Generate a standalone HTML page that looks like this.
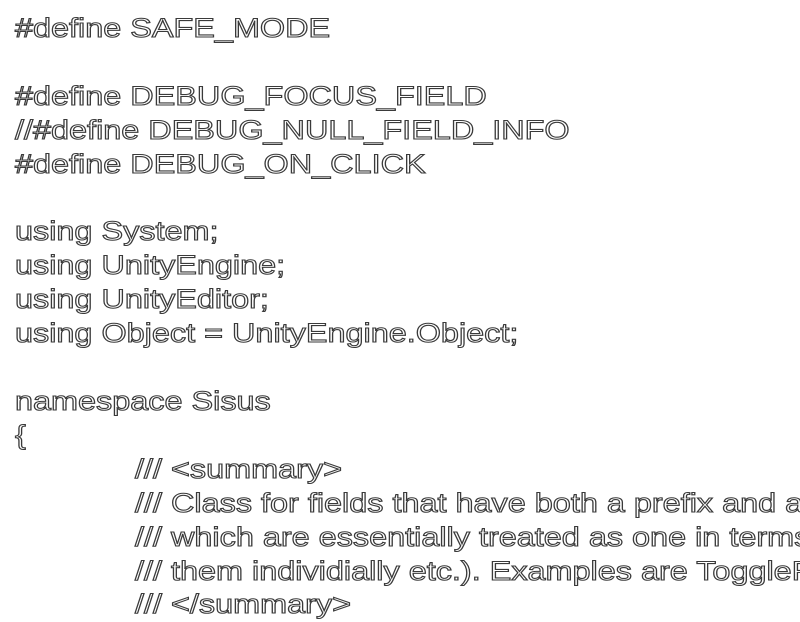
<!DOCTYPE html>
<html><head><meta charset="utf-8"><style>
html,body{margin:0;padding:0;background:#fff;width:800px;height:600px;overflow:hidden}
.t{position:absolute;left:15px;top:12px;font-family:"Liberation Sans",sans-serif;font-size:27px;line-height:33.9px;color:#fff;-webkit-text-stroke:1.1px #3a3a3a;white-space:pre;transform:scaleX(1.2);transform-origin:0 0}
</style></head><body>
<div class="t">#define SAFE_MODE

#define DEBUG_FOCUS_FIELD
//#define DEBUG_NULL_FIELD_INFO
#define DEBUG_ON_CLICK

using System;
using UnityEngine;
using UnityEditor;
using Object = UnityEngine.Object;

namespace Sisus
{
<span style="padding-left:100px">/// &lt;summary&gt;</span>
<span style="padding-left:100px">/// Class for fields that have both a prefix and a</span>
<span style="padding-left:100px">/// which are essentially treated as one in terms</span>
<span style="padding-left:100px">/// them individially etc.). Examples are ToggleF</span>
<span style="padding-left:100px">/// &lt;/summary&gt;</span></div>
</body></html>
